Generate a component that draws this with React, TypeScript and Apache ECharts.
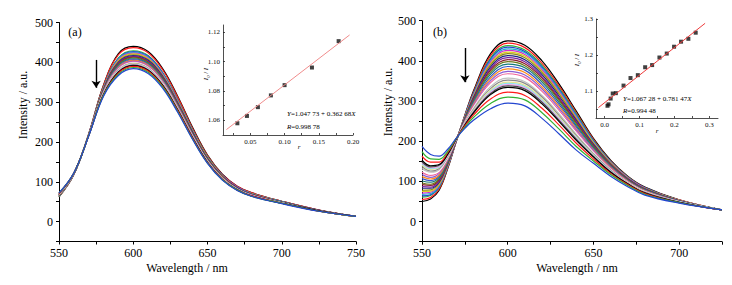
import React, { useEffect, useRef } from 'react';
import * as echarts from 'echarts';

const FONT = "'Liberation Serif', 'Times New Roman', serif";

// ---------- Panel (a) ----------
const leftWavelengths = [550, 560, 570, 580, 590, 600, 610, 620, 630, 640, 650, 660, 670, 680, 700, 725, 750];
const leftSpectra = [
  [62, 118, 220, 343, 422, 440, 427, 383, 314, 236, 167, 119, 89, 72, 51, 29, 13],
  [62, 118, 220, 342, 419, 437, 424, 380, 312, 234, 166, 118, 89, 72, 51, 29, 13],
  [63, 119, 219, 338, 411, 429, 417, 373, 306, 230, 163, 116, 87, 70, 50, 28, 13],
  [64, 119, 219, 337, 409, 427, 415, 372, 304, 229, 162, 116, 87, 70, 50, 28, 13],
  [64, 119, 219, 336, 408, 425, 413, 370, 303, 228, 161, 115, 86, 70, 50, 28, 13],
  [65, 119, 219, 335, 406, 423, 411, 368, 302, 227, 160, 115, 86, 69, 49, 28, 13],
  [65, 119, 218, 334, 404, 421, 409, 366, 300, 226, 160, 114, 85, 69, 49, 28, 13],
  [66, 120, 218, 333, 402, 419, 407, 365, 299, 225, 159, 114, 85, 69, 49, 28, 13],
  [66, 120, 218, 332, 400, 417, 405, 363, 297, 224, 158, 113, 85, 68, 49, 28, 13],
  [67, 120, 218, 331, 398, 415, 403, 361, 296, 222, 157, 112, 84, 68, 48, 28, 13],
  [67, 120, 218, 330, 396, 413, 401, 359, 294, 221, 157, 112, 84, 68, 48, 28, 13],
  [67, 120, 218, 329, 394, 411, 399, 358, 293, 220, 156, 111, 83, 67, 48, 27, 13],
  [68, 120, 217, 328, 392, 409, 397, 356, 292, 219, 155, 111, 83, 67, 48, 27, 13],
  [68, 120, 217, 327, 390, 407, 395, 354, 290, 218, 154, 110, 83, 67, 48, 27, 13],
  [68, 121, 217, 326, 388, 405, 393, 352, 289, 217, 153, 110, 82, 66, 47, 27, 13],
  [69, 121, 217, 325, 386, 403, 391, 351, 287, 216, 153, 109, 82, 66, 47, 27, 13],
  [69, 121, 217, 324, 384, 401, 389, 349, 286, 215, 152, 109, 81, 66, 47, 27, 13],
  [69, 121, 217, 323, 382, 399, 387, 347, 284, 214, 151, 108, 81, 65, 47, 27, 13],
  [70, 121, 217, 322, 381, 398, 386, 346, 284, 213, 151, 108, 81, 65, 47, 27, 13],
  [70, 121, 217, 322, 380, 397, 385, 345, 283, 213, 150, 108, 81, 65, 47, 27, 13],
  [70, 121, 216, 321, 379, 396, 384, 345, 282, 212, 150, 107, 80, 65, 46, 27, 13],
  [70, 121, 216, 321, 378, 395, 383, 344, 282, 212, 150, 107, 80, 65, 46, 27, 13],
  [71, 121, 216, 320, 377, 394, 382, 343, 281, 211, 149, 107, 80, 65, 46, 27, 13],
  [71, 121, 216, 320, 376, 393, 381, 342, 280, 211, 149, 106, 80, 64, 46, 27, 13],
  [71, 122, 216, 319, 375, 392, 380, 341, 280, 210, 149, 106, 80, 64, 46, 27, 13],
  [71, 122, 216, 318, 373, 390, 378, 339, 278, 209, 148, 106, 79, 64, 46, 26, 13],
  [72, 122, 216, 317, 370, 387, 375, 337, 276, 207, 147, 105, 79, 63, 46, 26, 13],
  [72, 122, 215, 315, 367, 384, 372, 334, 274, 206, 146, 104, 78, 63, 45, 26, 13],
];

// ---------- Panel (b) ----------
const rightWavelengths = [550, 555, 560, 565, 570, 575, 580, 590, 600, 610, 620, 630, 640, 650, 660, 670, 680, 700, 725];
const rightSpectra = [
  [50, 56, 78, 132, 200, 265, 325, 418, 450, 439, 400, 342, 275, 207, 153, 113, 86, 54, 29],
  [55, 60, 81, 134, 200, 264, 322, 413, 444, 433, 394, 337, 271, 205, 151, 112, 85, 54, 29],
  [61, 65, 85, 136, 201, 262, 319, 407, 438, 427, 389, 332, 268, 202, 150, 111, 84, 53, 29],
  [64, 67, 87, 137, 201, 262, 318, 404, 434, 423, 385, 329, 265, 201, 149, 110, 84, 53, 29],
  [68, 70, 89, 138, 201, 261, 316, 400, 430, 420, 382, 326, 263, 199, 148, 110, 83, 53, 29],
  [71, 73, 91, 139, 201, 260, 314, 397, 426, 416, 378, 323, 260, 197, 147, 109, 83, 53, 29],
  [75, 76, 93, 141, 201, 259, 312, 393, 422, 412, 374, 320, 257, 196, 146, 108, 82, 53, 29],
  [78, 79, 96, 142, 202, 258, 310, 390, 418, 408, 371, 317, 255, 194, 145, 107, 82, 52, 29],
  [83, 83, 98, 144, 202, 257, 308, 385, 413, 403, 366, 312, 252, 192, 143, 107, 81, 52, 29],
  [87, 86, 101, 145, 202, 256, 305, 381, 408, 398, 361, 308, 249, 190, 142, 106, 81, 52, 29],
  [92, 90, 104, 147, 202, 255, 303, 377, 403, 393, 357, 304, 246, 188, 141, 105, 80, 52, 29],
  [96, 93, 107, 148, 203, 254, 301, 372, 398, 388, 352, 301, 243, 186, 140, 104, 79, 51, 29],
  [101, 98, 110, 150, 203, 253, 298, 367, 392, 383, 347, 296, 239, 184, 138, 103, 79, 51, 29],
  [107, 102, 113, 152, 203, 251, 295, 361, 386, 377, 341, 291, 235, 181, 137, 102, 78, 51, 29],
  [112, 106, 116, 154, 204, 250, 292, 356, 380, 371, 335, 286, 231, 179, 135, 101, 77, 50, 29],
  [117, 110, 120, 156, 204, 249, 289, 351, 374, 365, 330, 281, 228, 177, 133, 100, 76, 50, 29],
  [123, 115, 123, 157, 204, 248, 286, 346, 368, 359, 324, 276, 224, 174, 132, 99, 75, 50, 29],
  [128, 119, 126, 159, 205, 246, 284, 340, 362, 353, 319, 272, 220, 172, 130, 98, 75, 49, 29],
  [132, 123, 129, 161, 205, 245, 281, 336, 357, 348, 314, 268, 217, 170, 129, 97, 74, 49, 29],
  [137, 126, 132, 162, 205, 244, 279, 331, 352, 344, 310, 264, 214, 168, 128, 97, 73, 49, 29],
  [141, 130, 135, 164, 205, 243, 277, 327, 347, 339, 305, 260, 211, 166, 126, 96, 73, 49, 29],
  [144, 132, 136, 165, 205, 242, 275, 324, 344, 336, 302, 257, 209, 165, 126, 95, 72, 49, 29],
  [146, 134, 138, 166, 206, 242, 274, 322, 341, 333, 299, 255, 207, 163, 125, 95, 72, 48, 29],
  [149, 136, 140, 167, 206, 241, 272, 319, 338, 330, 297, 252, 205, 162, 124, 94, 72, 48, 29],
  [153, 139, 142, 168, 206, 240, 270, 316, 334, 326, 293, 249, 202, 161, 123, 94, 71, 48, 29],
  [163, 148, 148, 172, 207, 238, 265, 305, 322, 314, 282, 240, 195, 156, 120, 92, 70, 47, 29],
  [174, 156, 155, 175, 207, 235, 259, 294, 310, 303, 271, 230, 187, 151, 117, 90, 68, 47, 29],
  [187, 167, 163, 180, 208, 232, 252, 281, 295, 288, 257, 218, 178, 145, 113, 87, 66, 46, 29],
];

// Origin-style colour cycle
const curveColors = [
  '#000000', '#ff1a1a', '#33b233', '#2446d0', '#1fb3d1', '#d02bd0', '#dccd1e', '#8e8a1c',
  '#1c2580', '#7a22a0', '#8c1c2e', '#6c7a1c', '#167a78', '#3a56c8', '#ff8c1a', '#8c5cd4',
  '#f0649c', '#ffffff', '#c0c0c0', '#8c8c8c', '#e8e48c', '#8ee4f0', '#eea2ee', '#4a4a4a',
];

// Main axis ticks
const leftXRange = [550, 750];
const rightXRange = [550, 725];
const intensityRange = [-50, 500];

// Arrows (wavelength, start intensity, end intensity)
const arrowA = [575, 406, 336];
const arrowB = [575, 432, 347];

// ---------- Inset (a) ----------
const insetAr = [0.031, 0.045, 0.061, 0.08, 0.1, 0.14, 0.179];
const insetAratio = [1.058, 1.063, 1.069, 1.077, 1.084, 1.096, 1.114];
const insetAfitR = [0.015, 0.195];
const insetAfitY = [1.0537, 1.1182];
const insetAxTicks = [0.025, 0.05, 0.075, 0.1, 0.125, 0.15, 0.175, 0.2];
const insetAxLabels = [0.05, 0.1, 0.15, 0.2];
const insetAyTicks = [1.06, 1.07, 1.08, 1.09, 1.1, 1.11, 1.12];
const insetAyLabels = [1.06, 1.08, 1.1, 1.12];

// ---------- Inset (b) ----------
const insetBr = [0.008, 0.011, 0.017, 0.023, 0.032, 0.054, 0.074, 0.095, 0.116, 0.136, 0.157, 0.178, 0.199, 0.219, 0.24, 0.261];
const insetBratio = [1.059, 1.063, 1.079, 1.093, 1.094, 1.115, 1.136, 1.144, 1.166, 1.172, 1.193, 1.204, 1.223, 1.237, 1.245, 1.262];
const insetBfitR = [-0.018, 0.288];
const insetBfitY = [1.054, 1.288];
const insetBxTicks = [0, 0.05, 0.1, 0.15, 0.2, 0.25, 0.3];
const insetBxLabels = [0, 0.1, 0.2, 0.3];
const insetByTicks = [1.05, 1.1, 1.15, 1.2, 1.25, 1.3];
const insetByLabels = [1.1, 1.2, 1.3];

function mainX(grid: number, range: number[]) {
  return {
    type: 'value', gridIndex: grid, min: range[0], max: range[1], interval: 25,
    axisLine: { show: true, onZero: false, lineStyle: { color: '#000', width: 1 } },
    axisTick: { show: true, inside: false, length: 3, lineStyle: { color: '#000', width: 1 } },
    axisLabel: {
      color: '#000', fontFamily: FONT, fontSize: 12, margin: 5,
      formatter: (v: number) => (Math.round(v) % 50 === 0 ? String(Math.round(v)) : ''),
    },
    splitLine: { show: false },
  };
}
function mainY(grid: number) {
  return {
    type: 'value', gridIndex: grid, min: intensityRange[0], max: intensityRange[1], interval: 50,
    axisLine: { show: true, onZero: false, lineStyle: { color: '#000', width: 1 } },
    axisTick: { show: true, inside: false, length: 3, lineStyle: { color: '#000', width: 1 } },
    axisLabel: {
      color: '#000', fontFamily: FONT, fontSize: 12, margin: 6,
      formatter: (v: number) => (Math.round(v) % 100 === 0 ? String(Math.round(v)) : ''),
    },
    splitLine: { show: false },
  };
}
function insetAxis(grid: number, min: number, max: number, ticks: number[], labels: number[], digits: number) {
  return {
    type: 'value', gridIndex: grid, min, max,
    axisLine: { show: true, onZero: false, lineStyle: { color: '#222', width: 0.8 } },
    axisTick: { show: true, inside: true, length: 2, customValues: ticks, lineStyle: { color: '#222', width: 0.8 } },
    axisLabel: {
      color: '#111', fontFamily: FONT, fontSize: 7, margin: 3, customValues: labels,
      formatter: (v: number) => v.toFixed(digits),
    },
    splitLine: { show: false },
  };
}

function arrowMark(a: number[]) {
  return {
    silent: true,
    symbol: ['none', 'arrow'],
    symbolSize: 7,
    label: { show: false },
    emphasis: { disabled: true },
    lineStyle: { color: '#000', width: 1.4, type: 'solid' },
    data: [[{ coord: [a[0], a[1]] }, { coord: [a[0], a[2]] }]],
  };
}

function buildOption() {
  const series: any[] = [];
  leftSpectra.forEach((vals, i) => {
    const s: any = {
      type: 'line', xAxisIndex: 0, yAxisIndex: 0, symbol: 'none', smooth: 0.4, silent: true,
      lineStyle: { width: 1.2, color: curveColors[i % curveColors.length] },
      data: leftWavelengths.map((w, j) => [w, vals[j]]),
    };
    if (i === 0) s.markLine = arrowMark(arrowA);
    series.push(s);
  });
  rightSpectra.forEach((vals, i) => {
    const s: any = {
      type: 'line', xAxisIndex: 1, yAxisIndex: 1, symbol: 'none', smooth: 0.4, silent: true,
      lineStyle: { width: 1.2, color: curveColors[i % curveColors.length] },
      data: rightWavelengths.map((w, j) => [w, vals[j]]),
    };
    if (i === 0) s.markLine = arrowMark(arrowB);
    series.push(s);
  });
  series.push({
    type: 'line', xAxisIndex: 2, yAxisIndex: 2, symbol: 'none', silent: true,
    lineStyle: { width: 1, color: '#f08c8c' },
    data: insetAfitR.map((r, i) => [r, insetAfitY[i]]),
  });
  series.push({
    type: 'scatter', xAxisIndex: 2, yAxisIndex: 2, symbol: 'rect', symbolSize: 4, silent: true,
    itemStyle: { color: '#111' },
    data: insetAr.map((r, i) => [r, insetAratio[i]]),
  });
  series.push({
    type: 'line', xAxisIndex: 3, yAxisIndex: 3, symbol: 'none', silent: true,
    lineStyle: { width: 1, color: '#ee3c3c' },
    data: insetBfitR.map((r, i) => [r, insetBfitY[i]]),
  });
  series.push({
    type: 'scatter', xAxisIndex: 3, yAxisIndex: 3, symbol: 'rect', symbolSize: 4, silent: true,
    itemStyle: { color: '#111' },
    data: insetBr.map((r, i) => [r, insetBratio[i]]),
  });

  const txt = (x: number, y: number, text: string, size: number, extra: any = {}, rotation = 0) => ({
    type: 'text', x, y, rotation, silent: true,
    style: {
      text, fill: '#000', fontFamily: FONT, fontSize: size,
      align: 'center', verticalAlign: 'middle', textAlign: 'center', textVerticalAlign: 'middle',
      ...extra,
    },
  });
  const rich = {
    i: { fontStyle: 'italic', fontFamily: FONT, fontSize: 7 },
    n: { fontFamily: FONT, fontSize: 7 },
    s: { fontStyle: 'italic', fontFamily: FONT, fontSize: 4.5, padding: [4, 0, 0, 0] },
  };
  const richRed = {
    i: { fontStyle: 'italic', fontFamily: FONT, fontSize: 7, color: '#e8383d' },
    n: { fontFamily: FONT, fontSize: 7, color: '#e8383d' },
  };

  const graphic = [
    txt(75, 32, '(a)', 12),
    txt(440, 32, '(b)', 12),
    txt(187, 268, 'Wavelength / nm', 12),
    txt(577, 268, 'Wavelength / nm', 12),
    txt(23, 105, 'Intensity / a.u.', 12, {}, Math.PI / 2),
    txt(388, 102, 'Intensity / a.u.', 12, {}, Math.PI / 2),
    // inset (a)
    txt(287, 114, '{i|Y}{n|=1.047 73 + 0.362 68}{i|X}', 7, { rich, align: 'left', textAlign: 'left' }),
    txt(287, 127, '{i|R}{n|=0.998 78}', 7, { rich: richRed, align: 'left', textAlign: 'left' }),
    txt(206, 74, '{i|I}{s|0}{n| / }{i|I}', 7, { rich }, Math.PI / 2),
    txt(299, 147, '{i|r}', 7, { rich }),
    // inset (b)
    txt(623, 99, '{i|Y}{n|=1.067 28 + 0.781 47}{i|X}', 7, { rich, align: 'left', textAlign: 'left' }),
    txt(623, 111, '{i|R}{n|=0.994 48}', 7, { rich: richRed, align: 'left', textAlign: 'left' }),
    txt(577, 60, '{i|I}{s|0}{n| / }{i|I}', 7, { rich }, Math.PI / 2),
    txt(657, 131, '{i|r}', 7, { rich }),
  ];

  return {
    animation: false,
    backgroundColor: '#ffffff',
    textStyle: { fontFamily: FONT },
    grid: [
      { left: 59, top: 22.5, width: 297, height: 219 },
      { left: 422, top: 20.7, width: 300, height: 221 },
      { left: 223, top: 25, width: 130, height: 110 },
      { left: 596, top: 19, width: 122, height: 99 },
    ],
    xAxis: [
      mainX(0, leftXRange),
      mainX(1, rightXRange),
      insetAxis(2, 0.01, 0.2, insetAxTicks, insetAxLabels, 2),
      insetAxis(3, -0.025, 0.325, insetBxTicks, insetBxLabels, 1),
    ],
    yAxis: [
      mainY(0),
      mainY(1),
      insetAxis(2, 1.05, 1.125, insetAyTicks, insetAyLabels, 2),
      insetAxis(3, 1.025, 1.3, insetByTicks, insetByLabels, 1),
    ],
    series,
    graphic,
  };
}

export default function App() {
  const ref = useRef<HTMLDivElement>(null);
  useEffect(() => {
    if (!ref.current) return;
    const chart = echarts.init(ref.current, undefined, { renderer: 'svg' });
    chart.setOption(buildOption() as any);
    return () => chart.dispose();
  }, []);
  return (
    <div
      ref={ref}
      style={{ position: 'absolute', left: 0, top: 0, width: 732, height: 285, background: '#fff' }}
    />
  );
}
